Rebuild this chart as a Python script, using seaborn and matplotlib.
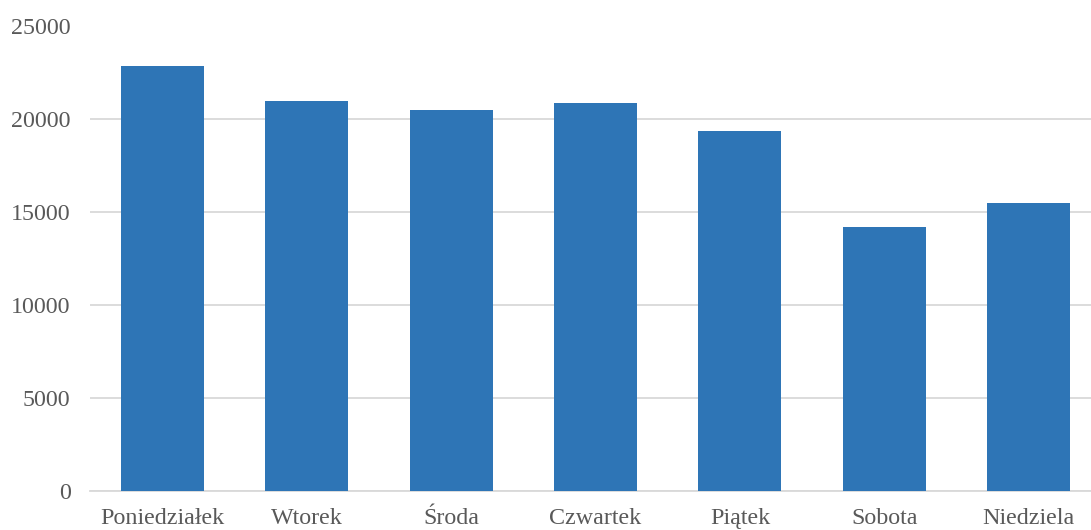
import matplotlib
matplotlib.use("Agg")
import matplotlib.pyplot as plt
import seaborn as sns
import pandas as pd

days = ["Poniedziałek", "Wtorek", "Środa", "Czwartek", "Piątek", "Sobota", "Niedziela"]
values = [22900, 21000, 20500, 20900, 19400, 14200, 15500]
yticks = [0, 5000, 10000, 15000, 20000, 25000]

sns.set_theme(style="white")
plt.rcParams['font.family'] = ['Liberation Serif', 'DejaVu Serif']

df = pd.DataFrame({"day": days, "value": values})

fig = plt.figure(figsize=(10.91, 5.30), dpi=100)
W, H = 1091, 530
ax = fig.add_axes([90 / W, 1 - 491 / H, (1101 - 90) / W, (491 - 26.5) / H])

sns.barplot(data=df, x="day", y="value", color="#2E75B6", saturation=1,
            width=0.575, ax=ax, zorder=3, edgecolor="#2E75B6", linewidth=0)

ax.set_xlim(-0.5, len(days) - 0.5)
ax.set_ylim(0, 25000)
ax.set_yticks(yticks)
ax.set_yticklabels([str(v) for v in yticks])
ax.yaxis.grid(True, color="#D9D9D9", linewidth=1.3, zorder=0)
ax.set_axisbelow(True)
for s in ["top", "right", "left"]:
    ax.spines[s].set_visible(False)
ax.spines["bottom"].set_color("#D9D9D9")
ax.spines["bottom"].set_linewidth(1.3)
ax.tick_params(axis="both", length=0, labelsize=17.3, colors="#595959")
ax.tick_params(axis="y", pad=14)
ax.tick_params(axis="x", pad=12)
ax.set_xlabel("")
ax.set_ylabel("")

fig.savefig("out.png", dpi=100)
